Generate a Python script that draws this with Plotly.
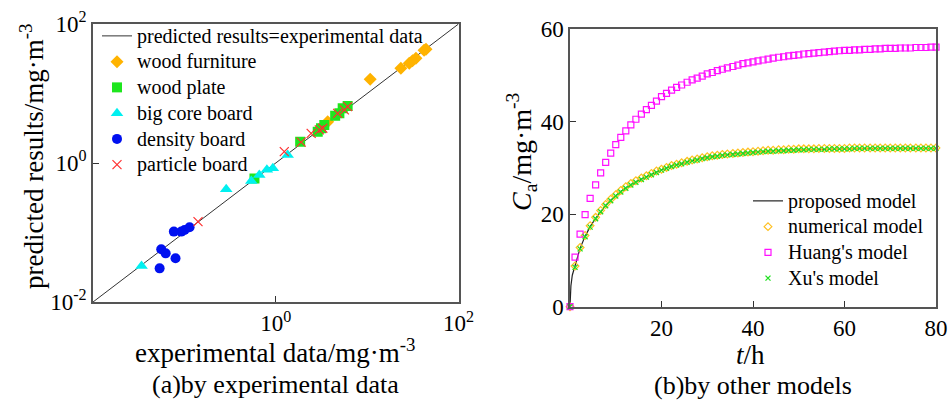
import plotly.graph_objects as go

# ---------------- (a) predicted vs experimental ----------------
diag = [0.01, 100]

furniture_x = [44.1, 42.0, 34.2, 31.4, 28.9, 23.4, 10.8, 3.7]
furniture_y = [43.3, 42.0, 32.1, 29.6, 27.2, 23.1, 16.0, 3.93]

plate_x = [5.40, 6.12, 4.97, 4.47, 3.40, 3.13, 2.88, 1.85, 0.585]
plate_y = [6.12, 6.61, 5.19, 4.79, 3.52, 3.16, 2.82, 2.02, 0.60]

core_x = [1.35, 0.93, 0.80, 0.66, 0.54, 0.287, 0.034]
core_y = [1.30, 0.84, 0.80, 0.67, 0.55, 0.42, 0.033]

density_x = [0.114, 0.1005, 0.0925, 0.0767, 0.0558, 0.0624, 0.080, 0.0536]
density_y = [0.119, 0.1087, 0.103, 0.103, 0.0573, 0.0501, 0.0425, 0.0305]

particle_x = [0.141, 1.24, 1.90, 2.44, 3.00, 3.27, 4.76, 5.64, 6.12]
particle_y = [0.143, 1.46, 2.00, 2.67, 2.99, 3.16, 5.19, 5.80, 6.46]

# ---------------- (b) comparison of models ----------------
t_model = [0, 1.1, 2.2, 3.3, 4.4, 5.6, 6.7, 7.8, 8.9,
           10, 11.1, 12.2, 13.3, 14.4, 15.6, 16.7, 17.8, 18.9,
           20, 21.1, 22.2, 23.3, 24.4, 25.6, 26.7, 27.8, 28.9,
           30, 31.1, 32.2, 33.3, 34.4, 35.6, 36.7, 37.8, 38.9,
           40, 41.1, 42.2, 43.3, 44.4, 45.6, 46.7, 47.8, 48.9,
           50, 51.1, 52.2, 53.3, 54.4, 55.6, 56.7, 57.8, 58.9,
           60, 61.1, 62.2, 63.3, 64.4, 65.6, 66.7, 67.8, 68.9,
           70, 71.1, 72.2, 73.3, 74.4, 75.6, 76.7, 77.8, 78.9,
           80]

t_proposed = [0, 0.2, 0.5, 1.1, 2.2, 3.3, 4.4, 5.6, 6.7, 7.8, 8.9,
              10, 11.1, 12.2, 13.3, 14.4, 15.6, 16.7, 17.8, 18.9,
              20, 22.2, 24.4, 26.7, 28.9, 31.1, 33.3, 35.6, 37.8,
              40, 44.4, 48.9, 53.3, 57.8, 62.2, 66.7, 71.1, 75.6, 80]
c_proposed = [0, 4.5, 6.8, 8.7, 12.6, 15.2, 17.3, 19.1, 20.6, 21.9, 23.0,
              24.0, 24.9, 25.7, 26.4, 27.0, 27.6, 28.1, 28.6, 29.1,
              29.6, 30.4, 31.0, 31.6, 32.1, 32.5, 32.8, 33.0, 33.2,
              33.4, 33.7, 33.9, 34.0, 34.1, 34.2, 34.2, 34.2, 34.2, 34.2]

c_numerical = [0, 8.8, 12.8, 15.4, 17.5, 19.3, 20.8, 22.1, 23.2,
               24.2, 25.1, 25.9, 26.6, 27.2, 27.8, 28.3, 28.8, 29.3,
               29.7, 30.1, 30.5, 30.8, 31.1, 31.4, 31.7, 31.9, 32.2,
               32.4, 32.6, 32.7, 32.9, 33.0, 33.1, 33.2, 33.3, 33.4,
               33.5, 33.6, 33.7, 33.8, 33.8, 33.9, 33.9, 34.0, 34.0,
               34.1, 34.1, 34.1, 34.1, 34.2, 34.2, 34.2, 34.2, 34.2,
               34.2, 34.3, 34.3, 34.3, 34.3, 34.3, 34.3, 34.3, 34.3,
               34.3, 34.3, 34.3, 34.3, 34.3, 34.3, 34.3, 34.3, 34.3,
               34.3]

c_huang = [0, 10.7, 15.7, 19.9, 23.4, 26.3, 28.9, 31.2, 33.2,
           35.0, 36.6, 38.0, 39.3, 40.5, 41.6, 42.6, 43.5, 44.4,
           45.4, 46.1, 46.8, 47.4, 47.9, 48.5, 49.0, 49.4, 49.8,
           50.3, 50.6, 51.0, 51.3, 51.6, 51.9, 52.2, 52.5, 52.7,
           52.9, 53.1, 53.3, 53.5, 53.7, 53.9, 54.0, 54.2, 54.3,
           54.4, 54.6, 54.7, 54.8, 54.9, 55.0, 55.1, 55.2, 55.3,
           55.4, 55.4, 55.5, 55.5, 55.6, 55.6, 55.7, 55.7, 55.8,
           55.8, 55.8, 55.9, 55.9, 55.9, 56.0, 56.0, 56.0, 56.1,
           56.1]

c_xu = [0, 8.5, 12.5, 15.1, 17.2, 19.0, 20.5, 21.8, 22.9,
        23.9, 24.8, 25.6, 26.3, 26.9, 27.5, 28.0, 28.5, 29.0,
        29.5, 29.9, 30.3, 30.6, 30.9, 31.2, 31.5, 31.7, 32.0,
        32.2, 32.4, 32.5, 32.7, 32.8, 32.9, 33.0, 33.1, 33.2,
        33.3, 33.4, 33.5, 33.6, 33.6, 33.7, 33.7, 33.8, 33.8,
        33.9, 33.9, 34.0, 34.0, 34.0, 34.0, 34.1, 34.1, 34.1,
        34.1, 34.1, 34.2, 34.2, 34.2, 34.2, 34.2, 34.2, 34.2,
        34.2, 34.2, 34.2, 34.2, 34.2, 34.2, 34.2, 34.2, 34.2,
        34.2]

FONT = "Liberation Serif"
W, H = 949, 403


def lg(s):
    # legend label rendered at 20px while rows keep the tighter spacing of the original
    return ('<span style="font-family:\'Liberation Serif\', serif;font-size:20px">'
            + s + "</span>")


fig = go.Figure()

# ---- left panel traces ----
fig.add_trace(go.Scatter(x=diag, y=diag, mode="lines", name=lg("predicted results=experimental data"),
                         line=dict(color="#333333", width=1), xaxis="x", yaxis="y", legend="legend"))
fig.add_trace(go.Scatter(x=furniture_x, y=furniture_y, mode="markers", name=lg("wood furniture"),
                         marker=dict(symbol="diamond", size=10, color="#FFB300"),
                         xaxis="x", yaxis="y", legend="legend"))
fig.add_trace(go.Scatter(x=plate_x, y=plate_y, mode="markers", name=lg("wood plate"),
                         marker=dict(symbol="square", size=10, color="#1EE61E"),
                         xaxis="x", yaxis="y", legend="legend"))
fig.add_trace(go.Scatter(x=core_x, y=core_y, mode="markers", name=lg("big core board"),
                         marker=dict(symbol="triangle-up", size=11, color="#00F0F0"),
                         xaxis="x", yaxis="y", legend="legend"))
fig.add_trace(go.Scatter(x=density_x, y=density_y, mode="markers", name=lg("density board"),
                         marker=dict(symbol="circle", size=10, color="#0010F0"),
                         xaxis="x", yaxis="y", legend="legend"))
fig.add_trace(go.Scatter(x=particle_x, y=particle_y, mode="markers", name=lg("particle board"),
                         marker=dict(symbol="x-thin-open", size=9, color="#FF3030",
                                     line=dict(width=1.2, color="#FF3030")),
                         xaxis="x", yaxis="y", legend="legend"))

# ---- right panel traces ----
fig.add_trace(go.Scatter(x=t_proposed, y=c_proposed, mode="lines", name=lg("proposed model"),
                         line=dict(color="#222222", width=1.2),
                         xaxis="x2", yaxis="y2", legend="legend2"))
fig.add_trace(go.Scatter(x=t_model, y=c_numerical, mode="markers", name=lg("numerical model"),
                         cliponaxis=False,
                         marker=dict(symbol="diamond-open", size=6, color="#FFC020",
                                     line=dict(width=1.2, color="#FFC020")),
                         xaxis="x2", yaxis="y2", legend="legend2"))
fig.add_trace(go.Scatter(x=t_model, y=c_huang, mode="markers", name=lg("Huang's model"),
                         cliponaxis=False,
                         marker=dict(symbol="square-open", size=6, color="#FF10FF",
                                     line=dict(width=1.2, color="#FF10FF")),
                         xaxis="x2", yaxis="y2", legend="legend2"))
fig.add_trace(go.Scatter(x=t_model, y=c_xu, mode="markers", name=lg("Xu's model"),
                         cliponaxis=False,
                         marker=dict(symbol="x-thin-open", size=5, color="#20E020",
                                     line=dict(width=1.3, color="#20E020")),
                         xaxis="x2", yaxis="y2", legend="legend2"))

axis_common = dict(showline=True, linecolor="#555555", linewidth=1.5, mirror=True,
                   ticks="inside", ticklen=6, tickwidth=1.3, tickcolor="#333333",
                   showgrid=False, zeroline=False, automargin=False,
                   tickfont=dict(family=FONT, size=23, color="black"))

fig.update_layout(
    template="none",
    width=W, height=H,
    margin=dict(l=0, r=0, t=0, b=0, autoexpand=False),
    paper_bgcolor="white", plot_bgcolor="white",
    font=dict(family=FONT, color="black"),
    xaxis=dict(domain=[93 / W, 458.5 / W], type="log", range=[-2, 2],
               tickmode="array", tickvals=[1, 100],
               ticktext=["10<sup>0</sup>", "10<sup>2</sup>"], anchor="y", **axis_common),
    yaxis=dict(domain=[1 - 302 / H, 1 - 24 / H], type="log", range=[-2, 2],
               tickmode="array", tickvals=[0.01, 1, 100],
               ticktext=["10<sup>-2</sup>", "10<sup>0</sup>", "10<sup>2</sup>"], anchor="x",
               **axis_common),
    xaxis2=dict(domain=[570 / W, 936 / W], range=[0, 80],
                tickmode="array", tickvals=[20, 40, 60, 80], anchor="y2", **axis_common),
    yaxis2=dict(domain=[1 - 306.7 / H, 1 - 29 / H], range=[0, 60],
                tickmode="array", tickvals=[0, 20, 40, 60], anchor="x2", **axis_common),
    legend=dict(x=97 / W, y=1 - 18 / H, xanchor="left", yanchor="top",
                bgcolor="rgba(0,0,0,0)", borderwidth=0, itemwidth=30,
                font=dict(family=FONT, size=17.5, color="black"), tracegroupgap=0),
    legend2=dict(x=748 / W, y=1 - 183 / H, xanchor="left", yanchor="top",
                 bgcolor="rgba(0,0,0,0)", borderwidth=0, itemwidth=30,
                 font=dict(family=FONT, size=17.5, color="black"), tracegroupgap=0),
)

ann = [
    dict(text="predicted results/mg·m<sup>-3</sup>", x=32 / W, y=1 - 157 / H, textangle=-90,
         font=dict(size=27)),
    dict(text="experimental data/mg·m<sup>-3</sup>", x=275 / W, y=1 - 351 / H, font=dict(size=27)),
    dict(text="(a)by experimental data", x=275 / W, y=1 - 384 / H, font=dict(size=26)),
    dict(text="<i>C</i><sub>a</sub>/mg·m<sup>-3</sup>", x=521 / W, y=1 - 152 / H, textangle=-90,
         font=dict(size=28)),
    dict(text="<i>t</i>/h", x=750 / W, y=1 - 355 / H, font=dict(size=27)),
    dict(text="(b)by other models", x=753 / W, y=1 - 385 / H, font=dict(size=26)),
]
for a in ann:
    a.update(xref="paper", yref="paper", xanchor="center", yanchor="middle", showarrow=False)
    a["font"].update(family=FONT, color="black")
fig.update_layout(annotations=ann)

fig.write_html("out.html", config={"displayModeBar": False},
               post_script="document.body.style.margin='0px';")
